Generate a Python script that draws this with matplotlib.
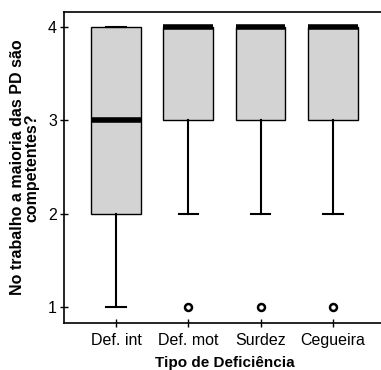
import matplotlib
matplotlib.use("Agg")
import matplotlib.pyplot as plt

categories = ["Def. int", "Def. mot", "Surdez", "Cegueira"]
q1 = [2, 3, 3, 3]
median = [3, 4, 4, 4]
q3 = [4, 4, 4, 4]
whisker_low = [1, 2, 2, 2]
whisker_high = [4, 4, 4, 4]
outliers = [[], [1], [1], [1]]

plt.rcParams["font.family"] = ["Liberation Sans", "DejaVu Sans"]

fig = plt.figure(figsize=(3.81, 3.70), dpi=100)
ax = fig.add_axes([64 / 381, 1 - 323 / 370, 1 - 64 / 381 + 0.01, (323 - 12) / 370])

stats = []
for i, name in enumerate(categories):
    stats.append(dict(label=name, q1=q1[i], med=median[i], q3=q3[i],
                      whislo=whisker_low[i], whishi=whisker_high[i],
                      fliers=outliers[i]))

ax.bxp(stats, positions=range(1, len(categories) + 1), widths=0.69,
       patch_artist=True, showfliers=True,
       boxprops=dict(facecolor="#d3d3d3", edgecolor="black", linewidth=1.0),
       medianprops=dict(color="black", linewidth=4, solid_capstyle="butt"),
       whiskerprops=dict(color="black", linewidth=1.5),
       capprops=dict(color="black", linewidth=1.5),
       capwidths=0.27,
       flierprops=dict(marker="o", markersize=5, markerfacecolor="white",
                       markeredgecolor="black", markeredgewidth=1.8))

ax.set_xlim(0.28, 4.72)
ax.set_ylim(0.83, 4.16)
ax.set_yticks([1, 2, 3, 4])
ax.set_yticklabels(["1", "2", "3", "4"])
ax.tick_params(axis="both", direction="inout", length=6, width=1,
               labelsize=11.5, colors="black")
ax.tick_params(axis="y", pad=2)
ax.tick_params(axis="x", pad=4)

for side in ("left", "bottom", "top"):
    ax.spines[side].set_linewidth(1.2)
ax.spines["right"].set_visible(False)

ax.set_xlabel("Tipo de Deficiência", fontsize=11, fontweight="bold", labelpad=6)
ax.set_ylabel("No trabalho a maioria das PD são\ncompetentes?", fontsize=11.5,
              fontweight="bold", labelpad=6, linespacing=1.0)

fig.savefig("out.png", dpi=100)
